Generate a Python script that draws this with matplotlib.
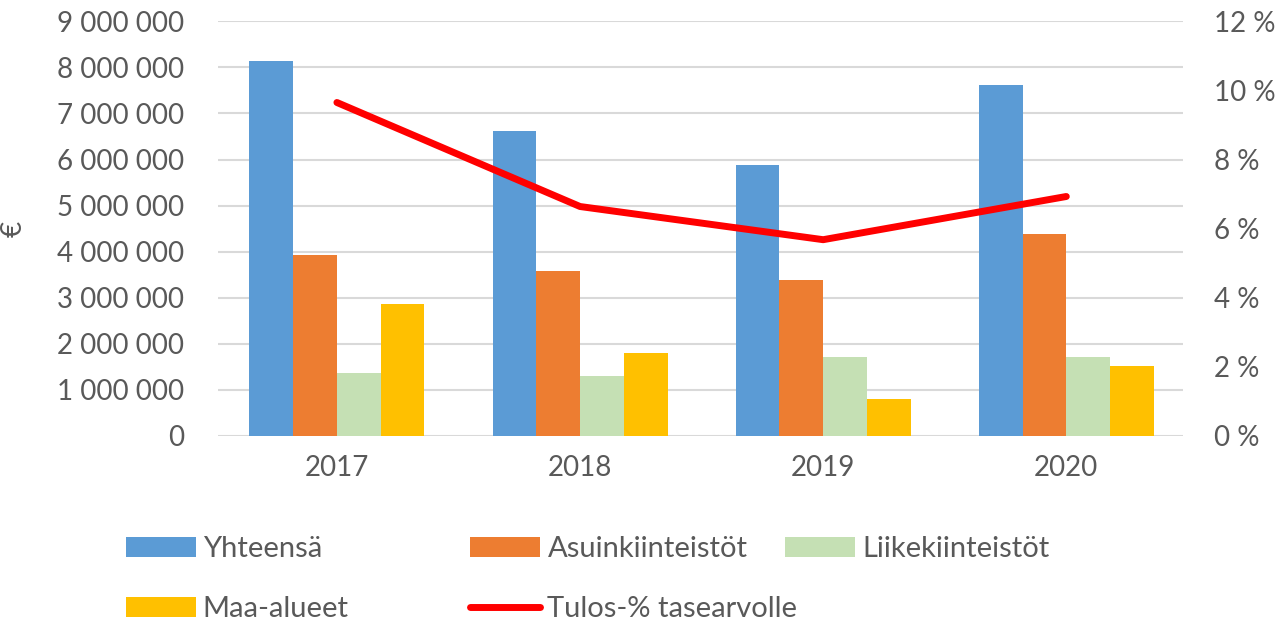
import matplotlib.pyplot as plt
from matplotlib.ticker import FuncFormatter
import numpy as np

plt.rcParams['font.family'] = ['Lato', 'DejaVu Sans']

years = ['2017', '2018', '2019', '2020']
yhteensa = [8130000, 6610000, 5890000, 7610000]
asuin = [3930000, 3570000, 3390000, 4390000]
liike = [1370000, 1300000, 1720000, 1720000]
maa = [2870000, 1800000, 800000, 1520000]
tulos = [9.65, 6.64, 5.68, 6.93]

series = [
    ('Yhteensä', yhteensa, '#5B9BD5'),
    ('Asuinkiinteistöt', asuin, '#ED7D31'),
    ('Liikekiinteistöt', liike, '#C5E0B4'),
    ('Maa-alueet', maa, '#FFC000'),
]

txt = '#595959'
fs = 20
fig = plt.figure(figsize=(12.81, 6.24), dpi=100)
ax = fig.add_axes([0.170, 0.3013, 0.7535, 0.6646])
ax2 = ax.twinx()

x = np.arange(len(years))
w = 0.18
handles = {}
for i, (name, vals, col) in enumerate(series):
    b = ax.bar(x + (i - 1.5) * w, vals, w, color=col, zorder=2)
    handles[name] = b

line, = ax2.plot(x, tulos, color='#FF0000', lw=5, solid_capstyle='round', zorder=3)
handles['Tulos-% tasearvolle'] = line

ax.set_xlim(-0.49, 3.48)
ax.set_ylim(0, 9000000)
ax.set_yticks(np.arange(0, 9000001, 1000000))
ax.yaxis.set_major_formatter(FuncFormatter(lambda v, p: f'{int(v):,}'.replace(',', ' ')))
ax2.set_ylim(0, 12)
ax2.set_yticks(np.arange(0, 13, 2))
ax2.yaxis.set_major_formatter(FuncFormatter(lambda v, p: f'{int(v)} %'))

ax.set_xticks(x)
ax.set_xticklabels(years)
ax.grid(axis='y', color='#D9D9D9', lw=1.5, zorder=0)
ax.set_axisbelow(True)
for a in (ax, ax2):
    for s in a.spines.values():
        s.set_visible(False)
ax.tick_params(axis='y', length=0, pad=24, labelsize=fs, labelcolor=txt)
ax.tick_params(axis='x', length=0, pad=14, labelsize=fs, labelcolor=txt)
ax2.tick_params(axis='y', length=0, pad=22, labelsize=fs, labelcolor=txt)
ax.set_ylabel('€', fontsize=fs, color=txt, labelpad=22)

# legend entries laid out in two rows below the plot
entries = [
    ('Yhteensä', 0.098, 0.12),
    ('Asuinkiinteistöt', 0.367, 0.12),
    ('Liikekiinteistöt', 0.613, 0.12),
    ('Maa-alueet', 0.098, 0.024),
    ('Tulos-% tasearvolle', 0.367, 0.024),
]
for name, lx, ly in entries:
    fig.legend([handles[name]], [name], loc='center left', bbox_to_anchor=(lx, ly),
               frameon=False, fontsize=21, handlelength=2.4, handletextpad=0.25,
               borderaxespad=0, borderpad=0, labelcolor=txt)

fig.savefig('out.png', dpi=100)
